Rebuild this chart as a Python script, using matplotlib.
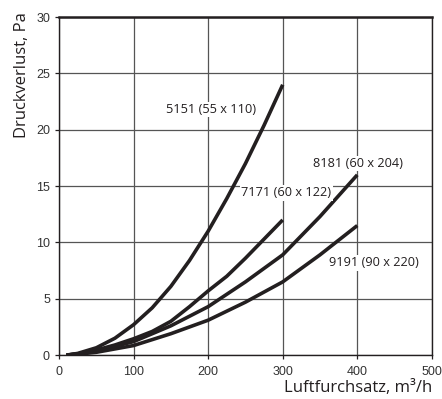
import matplotlib
matplotlib.use("Agg")
import matplotlib.pyplot as plt

# Luftdurchsatz (m3/h) und Druckverlust (Pa)
x_5151 = [10, 25, 50, 75, 100, 125, 150, 175, 200, 225, 250, 275, 300]
y_5151 = [0.0, 0.15, 0.65, 1.5, 2.7, 4.2, 6.1, 8.4, 11.0, 13.9, 17.0, 20.4, 24.0]

x_7171 = [10, 25, 50, 75, 100, 125, 150, 175, 200, 225, 250, 275, 300]
y_7171 = [0.0, 0.1, 0.45, 0.9, 1.45, 2.1, 3.0, 4.3, 5.7, 7.0, 8.6, 10.3, 12.0]

x_8181 = [10, 25, 50, 100, 150, 200, 250, 300, 350, 400]
y_8181 = [0.0, 0.1, 0.35, 1.2, 2.6, 4.3, 6.5, 8.9, 12.3, 16.0]

x_9191 = [10, 25, 50, 100, 150, 200, 250, 300, 350, 400]
y_9191 = [0.0, 0.08, 0.25, 0.85, 1.9, 3.1, 4.7, 6.5, 8.9, 11.5]

labels = ["5151 (55 x 110)", "7171 (60 x 122)", "8181 (60 x 204)", "9191 (90 x 220)"]
label_pos = [(204, 21.8), (305, 14.4), (401, 17.0), (422, 8.2)]

fig = plt.figure(figsize=(4.42, 3.99), dpi=100)
ax = fig.add_axes([0.1335, 0.110, 0.8435, 0.847])

for xs, ys in [(x_5151, y_5151), (x_7171, y_7171), (x_8181, y_8181), (x_9191, y_9191)]:
    ax.plot(xs, ys, color="#231f20", linewidth=2.6, solid_capstyle="butt", zorder=3)

for txt, (tx, ty) in zip(labels, label_pos):
    ax.text(tx, ty, txt, ha="center", va="center", fontsize=9.2,
            family="Open Sans", color="#231f20", zorder=4,
            bbox=dict(boxstyle="square,pad=0.1", fc="white", ec="none"))

ax.set_xlim(0, 500)
ax.set_ylim(0, 30)
ax.set_xticks([0, 100, 200, 300, 400, 500])
ax.set_yticks([0, 5, 10, 15, 20, 25, 30])
ax.grid(True, color="#555555", linewidth=0.9)
ax.tick_params(labelsize=9, colors="#231f20", labelcolor="#333333",
               length=3, width=0.9)
ax.tick_params(axis="x", pad=5)
for lab in ax.get_xticklabels() + ax.get_yticklabels():
    lab.set_family("Liberation Sans")
for side in ["left", "right", "bottom"]:
    ax.spines[side].set_linewidth(1.0)
    ax.spines[side].set_color("#231f20")
ax.spines["top"].set_linewidth(1.8)
ax.spines["top"].set_color("#231f20")

fig.text(0.050, 0.970, "Druckverlust, Pa", rotation=90, ha="center", va="top",
         fontsize=12, family="Open Sans", color="#231f20")
fig.text(0.977, 0.027, "Luftfurchsatz, m³/h", ha="right", va="center",
         fontsize=12, family="Open Sans", color="#231f20")

fig.savefig("out.png", dpi=100)
